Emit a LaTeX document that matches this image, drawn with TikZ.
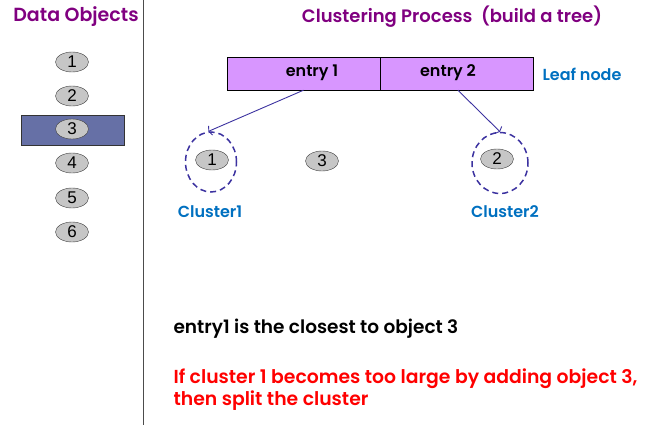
\documentclass[tikz,border=0pt]{standalone}
\usepackage{fontspec}
\setmainfont{Poppins}[BoldFont={Poppins SemiBold}]
\newfontfamily\numfont{Liberation Sans}
\usetikzlibrary{positioning, shapes.geometric, arrows.meta}

\definecolor{titlepurple}{RGB}{128,0,128}
\definecolor{labelblue}{RGB}{0,112,192}
\definecolor{selblue}{RGB}{102,112,166}
\definecolor{leafviolet}{RGB}{216,150,255}
\definecolor{linkblue}{RGB}{60,50,160}

\tikzset{
    obj/.style={draw=black!75, ellipse, fill=gray!45, minimum width=33pt, minimum height=20pt, inner sep=0pt, font=\numfont\fontsize{17}{17}\selectfont},
    cell/.style={draw, rectangle, fill=leafviolet, minimum height=33pt, inner sep=0pt},
    cluster/.style={draw=linkblue, ellipse, dashed, dash pattern=on 6pt off 4pt, line width=1.5pt},
    title/.style={text=titlepurple, font=\bfseries\fontsize{19}{19}\selectfont},
    tag/.style={text=labelblue, font=\bfseries\fontsize{16}{16}\selectfont},
    link/.style={draw=linkblue, line width=0.9pt, -{Straight Barb[length=2pt, width=10pt]}}
}

\begin{document}
\begin{tikzpicture}[x=1pt, y=-1pt]
    \useasboundingbox (0,0) rectangle (671,425);
    \draw[gray!60!black, line width=1pt] (143,0) -- (143,425);

    \node[title] (dataTitle) at (76,17) {Data Objects};
    \node[title, font=\bfseries\fontsize{18}{18}\selectfont] (treeTitle) at (452,17) {Clustering Process~~(build a tree)};

    % data objects
    \draw[fill=selblue, draw=black!80] (21,115) rectangle (124,145);
    \foreach \i/\y in {1/62, 2/96, 3/129, 4/163, 5/198, 6/232}
        \node[obj] (obj\i) at (72,\y) {\i};

    % leaf node
    \node[cell, minimum width=153pt] (entryA) at (303.5,73.5) {};
    \node[cell, minimum width=153pt, right=0pt of entryA] (entryB) {};
    \node[font=\bfseries\fontsize{16}{16}\selectfont] (entryAtext) at (312,73) {entry 1};
    \node[font=\bfseries\fontsize{16}{16}\selectfont] (entryBtext) at (448,73) {entry 2};
    \node[tag, anchor=west] (leafTag) at (539,74) {Leaf node};

    % clusters
    \node[cluster, minimum width=51pt, minimum height=60pt] (clusterA) at (211,162) {};
    \node[cluster, minimum width=56pt, minimum height=61pt] (clusterB) at (500,163) {};
    \node[obj] (cobj1) at (212,160) {1};
    \node[obj] (cobj3) at (322,161) {3};
    \node[obj] (cobj2) at (497,159) {2};
    \node[tag] (clusterAtag) at (210,212) {Cluster1};
    \node[tag] (clusterBtag) at (505,212) {Cluster2};

    \draw[link] (entryA.south) -- (clusterA.95);
    \draw[link] ([xshift=1pt]entryB.south) -- (clusterB.north);

    % notes
    \node[anchor=west, font=\bfseries\fontsize{18.5}{18.5}\selectfont] (note) at (170,329) {entry1 is the closest to object 3};
    \node[anchor=north west, align=left, text=red, font=\bfseries\fontsize{18.8}{22}\selectfont] (split) at (170,365) {If cluster 1 becomes too large by adding object 3,\\then split the cluster};
\end{tikzpicture}
\end{document}
